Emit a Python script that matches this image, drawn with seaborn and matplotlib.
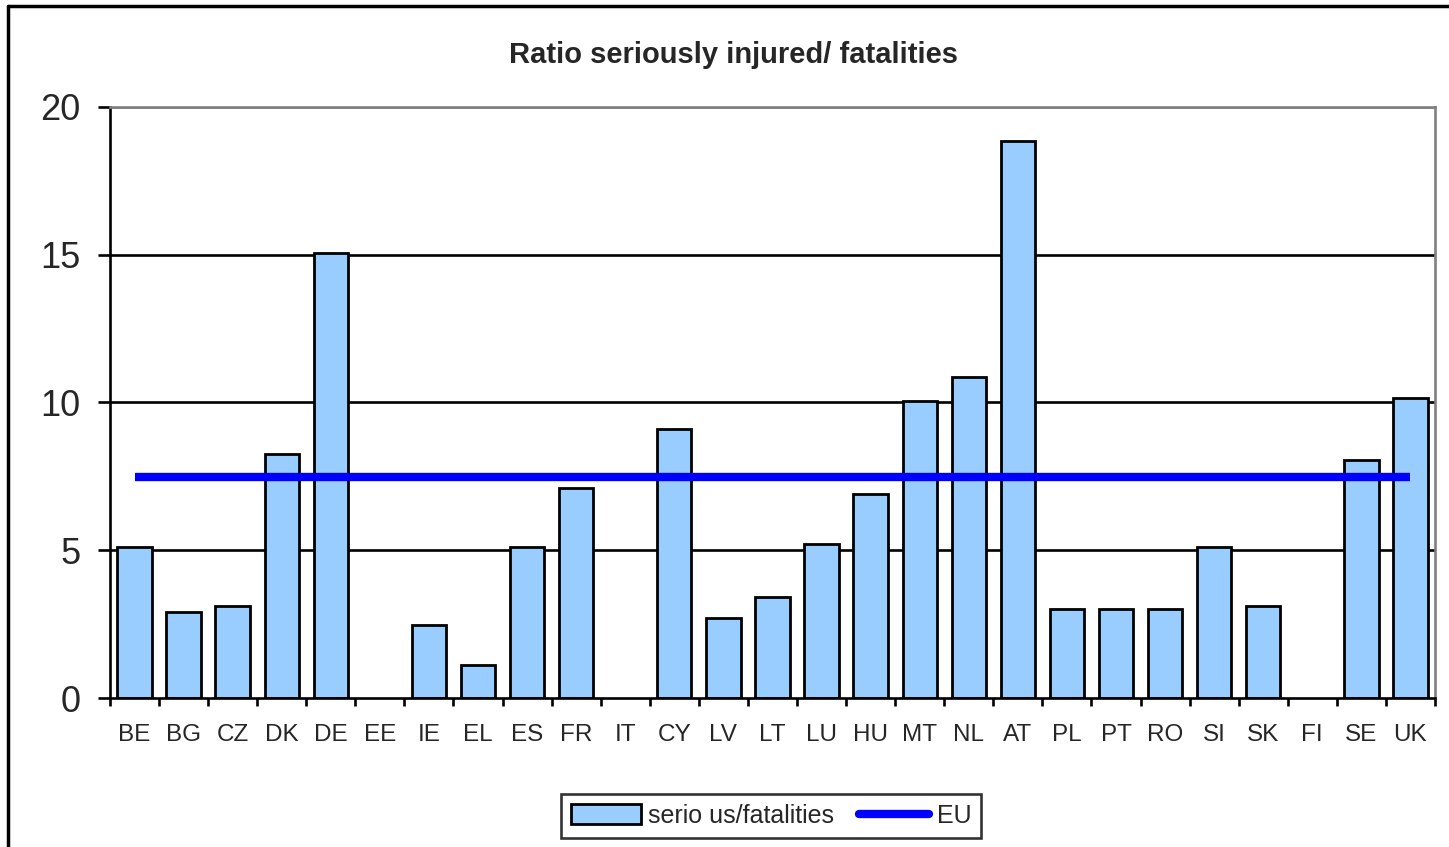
import matplotlib
matplotlib.use('Agg')
import matplotlib.pyplot as plt
import pandas as pd
import seaborn as sns
from matplotlib.lines import Line2D
from matplotlib.patches import Patch

# dados
paises = ['BE', 'BG', 'CZ', 'DK', 'DE', 'EE', 'IE', 'EL', 'ES', 'FR', 'IT', 'CY', 'LV', 'LT',
          'LU', 'HU', 'MT', 'NL', 'AT', 'PL', 'PT', 'RO', 'SI', 'SK', 'FI', 'SE', 'UK']
razao = [5.11, 2.91, 3.11, 8.26, 15.06, None, 2.47, 1.12, 5.11, 7.10, None, 9.10, 2.70, 3.42,
         5.21, 6.90, 10.05, 10.86, 18.85, 3.01, 3.00, 3.00, 5.10, 3.11, None, 8.05, 10.15]
media_eu = 7.48
yticks = [0, 5, 10, 15, 20]

df = pd.DataFrame({'pais': paises, 'razao': razao})

sns.set_style('white')
plt.rcParams['font.family'] = ['Liberation Sans', 'DejaVu Sans']

fig = plt.figure(figsize=(14.49, 8.47), dpi=100)
ax = fig.add_axes([0.0759, 0.1759, 0.9144, 0.6978])

# grade horizontal
for v in yticks[1:-1]:
    ax.axhline(v, color='black', lw=1.9, zorder=0)
ax.axhline(20, color='#808080', lw=1.9, zorder=0)

sns.barplot(x='pais', y='razao', data=df, order=paises, color='#99CCFF',
            edgecolor='black', linewidth=2, width=0.7, saturation=1, ax=ax, zorder=2)

# linha da média EU
ax.plot([0, len(paises) - 1], [media_eu, media_eu], color='#0000FF', lw=6, zorder=3,
        solid_capstyle='butt')

ax.set_xlim(-0.5, len(paises) - 0.5)
ax.set_ylim(0, 20)
ax.set_yticks(yticks)
ax.set_xlabel('')
ax.set_ylabel('')

# ticks do eixo x entre as categorias
ax.set_xticks([i - 0.5 for i in range(len(paises) + 1)], minor=True)
ax.tick_params(axis='x', which='major', length=0, labelsize=17.5, pad=19)
ax.tick_params(axis='x', which='minor', direction='out', length=6, width=1.9,
               color='black', bottom=True)
ax.tick_params(axis='y', direction='out', length=9, width=1.9, color='black',
               labelsize=26, pad=12, left=True)

for s in ['left', 'bottom']:
    ax.spines[s].set_color('black')
    ax.spines[s].set_linewidth(1.9)
for s in ['top', 'right']:
    ax.spines[s].set_color('#808080')
    ax.spines[s].set_linewidth(1.9)

fig.text(0.506, 0.935, 'Ratio seriously injured/ fatalities', ha='center', va='center',
         fontsize=21, fontweight='bold')

handles = [Patch(facecolor='#99CCFF', edgecolor='black', linewidth=2),
           Line2D([0], [0], color='#0000FF', lw=6)]
leg = fig.legend(handles, ['serio us/fatalities', 'EU'], loc='center',
                 bbox_to_anchor=(0.532, 0.037), ncol=2, fontsize=18, frameon=True,
                 fancybox=False, handlelength=2.8, handleheight=0.8, handletextpad=0.3,
                 columnspacing=1.0, borderpad=0.4, borderaxespad=0)
leg.get_frame().set_edgecolor('black')
leg.get_frame().set_linewidth(1.9)

# moldura externa
fig.add_artist(Line2D([8 / 1449, 8 / 1449], [0, 1 - 6 / 847], color='black', lw=2.5,
                      transform=fig.transFigure))
fig.add_artist(Line2D([8 / 1449, 1], [1 - 6 / 847, 1 - 6 / 847], color='black', lw=2.5,
                      transform=fig.transFigure))

fig.savefig('out.png', dpi=100)
